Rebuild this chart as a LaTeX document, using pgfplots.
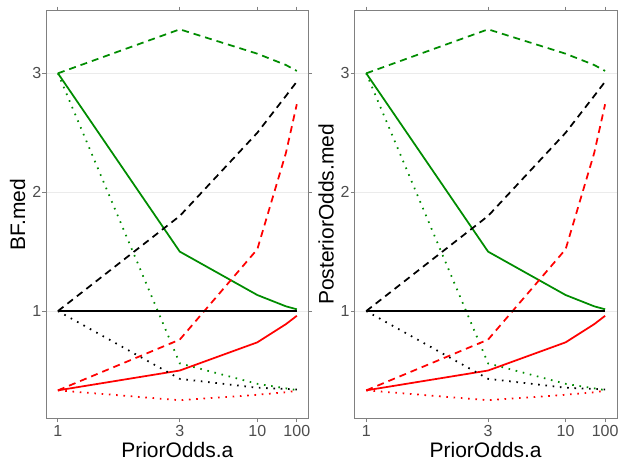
\documentclass[border=0pt]{standalone}
\usepackage{fontspec}
\setmainfont{Liberation Sans}
\usepackage{pgfplots}
\pgfplotsset{compat=1.18}
\usepackage{pgfplotstable}
\definecolor{ggreen}{RGB}{0,140,0}
\definecolor{gridc}{RGB}{235,235,235}
\definecolor{framec}{RGB}{128,128,128}
\definecolor{tickc}{RGB}{77,77,77}

% p = a/(1+a) for a = 1, 3, 10, 30, 100
\pgfplotstableread{
p        ks  kd    kt     gs     gd     gt     rs     rd     rt
0.5      1   1     1      3      3      3      0.333  0.333  0.333
0.75     1   1.80  0.43   1.50   3.37   0.56   0.50   0.76   0.25
0.909091 1   2.50  0.355  1.135  3.165  0.388  0.737  1.52   0.296
0.967742 1   2.81  0.345  1.04   3.07   0.35   0.89   2.33   0.317
0.990099 1   2.93  0.34   1.015  3.02   0.335  0.96   2.74   0.33
}\data

\pgfplotsset{myaxis/.style={
  scale only axis, width=262.7bp, height=408.6bp,
  xmin=0.4755, xmax=1.0145, ymin=0.0938, ymax=3.531,
  xtick={0.5,0.75,0.909091,0.990099}, xticklabels={1,3,10,100},
  ytick={1,2,3}, yticklabels={1,2,3},
  ymajorgrids, major grid style={draw=gridc, line width=0.9bp},
  axis line style={draw=framec, line width=0.9bp},
  tick align=outside, major tick length=3.5bp,
  tick style={draw=framec, line width=0.9bp},
  ticklabel style={font=\fontsize{16bp}{19bp}\selectfont, text=tickc},
  xticklabel style={anchor=north, inner sep=0pt, yshift=-3bp},
  yticklabel style={anchor=east, inner sep=0pt, xshift=-1bp},
  label style={font=\fontsize{21bp}{25bp}\selectfont, text=black},
  xlabel={PriorOdds.a},
  xlabel style={at={(axis description cs:0.5,-0.0768)}, anchor=center},
  ylabel style={at={(axis description cs:-0.1077,0.5)}, anchor=center},
  every axis plot/.append style={line width=1.75bp},
  dashp/.style={dash pattern=on 7bp off 5bp},
  dotp/.style={dash pattern=on 1.6bp off 5.7bp},
}}

\newcommand{\allplots}{%
  \addplot[ggreen, dashp] table[x=p,y=gd]{\data};
  \addplot[ggreen, dotp] table[x=p,y=gt]{\data};
  \addplot[ggreen] table[x=p,y=gs]{\data};
  \addplot[red, dashp] table[x=p,y=rd]{\data};
  \addplot[red, dotp] table[x=p,y=rt]{\data};
  \addplot[red] table[x=p,y=rs]{\data};
  \addplot[black, dashp] table[x=p,y=kd]{\data};
  \addplot[black, dotp] table[x=p,y=kt]{\data};
  \addplot[black, line width=2bp] table[x=p,y=ks]{\data};
}

\begin{document}
\begin{tikzpicture}
\useasboundingbox (0,0) rectangle (618bp,463bp);
\begin{axis}[myaxis, at={(46bp,44.2bp)}, ylabel={BF.med}]
\allplots
\end{axis}
\begin{axis}[myaxis, at={(354.3bp,44.2bp)}, ylabel={PosteriorOdds.med}]
\allplots
\end{axis}
\end{tikzpicture}
\end{document}
